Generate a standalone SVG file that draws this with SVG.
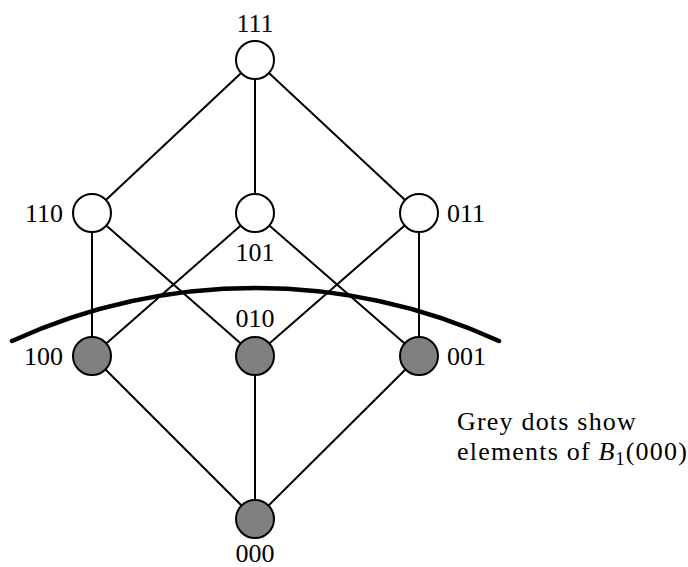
<svg xmlns="http://www.w3.org/2000/svg" width="688" height="567" viewBox="0 0 688 567">
<style>
.e{stroke:#000;stroke-width:2;fill:none}
.w{fill:#fff;stroke:#000;stroke-width:2}
.g{fill:#808080;stroke:#000;stroke-width:2}
text{font-family:"Liberation Serif",serif;font-size:26px;fill:#000}
.c{font-size:26px;letter-spacing:1.2px}
</style>
<rect width="688" height="567" fill="#fff"/>
<g id="edges">
<line class="e" x1="255" y1="60" x2="92" y2="213"/>
<line class="e" x1="255" y1="60" x2="255" y2="213"/>
<line class="e" x1="255" y1="60" x2="419" y2="213"/>
<line class="e" x1="92" y1="213" x2="92" y2="356"/>
<line class="e" x1="92" y1="213" x2="255" y2="356"/>
<line class="e" x1="255" y1="213" x2="92" y2="356"/>
<line class="e" x1="255" y1="213" x2="419" y2="356"/>
<line class="e" x1="419" y1="213" x2="255" y2="356"/>
<line class="e" x1="419" y1="213" x2="419" y2="356"/>
<line class="e" x1="92" y1="356" x2="255" y2="519"/>
<line class="e" x1="255" y1="356" x2="255" y2="519"/>
<line class="e" x1="419" y1="356" x2="255" y2="519"/>
</g>
<path id="boundary" d="M12,341 A586,586 0 0 1 499,341" fill="none" stroke="#000" stroke-width="4.5" stroke-linecap="round"/>
<g id="n111"><circle class="w" cx="255" cy="60" r="19"/><text x="255" y="32" text-anchor="middle">111</text></g>
<g id="n110"><circle class="w" cx="92" cy="213" r="19"/><text x="63" y="222" text-anchor="end">110</text></g>
<g id="n101"><circle class="w" cx="255" cy="213" r="19"/><text x="255" y="261" text-anchor="middle">101</text></g>
<g id="n011"><circle class="w" cx="419" cy="213" r="19"/><text x="447" y="222" text-anchor="start">011</text></g>
<g id="n100"><circle class="g" cx="92" cy="356" r="19"/><text x="63" y="365" text-anchor="end">100</text></g>
<g id="n010"><circle class="g" cx="255" cy="356" r="19"/><text x="255" y="327" text-anchor="middle">010</text></g>
<g id="n001"><circle class="g" cx="419" cy="356" r="19"/><text x="447" y="365" text-anchor="start">001</text></g>
<g id="n000"><circle class="g" cx="255" cy="519" r="19"/><text x="255" y="562" text-anchor="middle">000</text></g>
<g id="caption">
<text class="c" x="457" y="430">Grey dots show</text>
<text class="c" x="457" y="460">elements of <tspan font-style="italic">B</tspan><tspan font-size="18" dy="5">1</tspan><tspan dy="-5">(000)</tspan></text>
</g>
</svg>
